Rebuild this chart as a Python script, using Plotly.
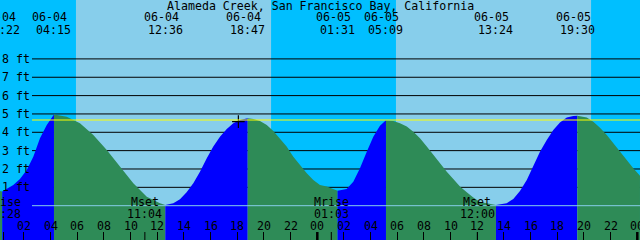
import plotly.graph_objects as go

# ---------------- data ----------------
title_text = "Alameda Creek, San Francisco Bay, California"

# hours since 06-04 00:00 and tide height (ft)
tide_hours = [0.0, 0.37, 0.705, 1.2, 1.7, 2.21, 2.7, 3.2, 3.71, 4.25, 5.21, 6.2, 7.2, 8.21, 9.2,
              10.2, 11.21, 12.2, 12.6, 13.2, 13.7, 14.2, 14.7, 15.2, 15.71, 16.2, 16.7, 17.21,
              17.7, 18.2, 18.78, 19.2, 19.7, 20.21, 20.7, 21.2, 21.7, 22.2, 22.7, 23.21, 23.7,
              24.2, 24.71, 25.2, 25.52, 26.2, 26.7, 27.2, 27.71, 28.2, 28.7, 29.15, 29.7, 30.2,
              30.71, 31.2, 31.7, 32.21, 32.7, 33.2, 33.71, 34.2, 34.7, 35.21, 35.7, 36.2, 36.95,
              37.4, 38.2, 38.7, 39.2, 39.71, 40.2, 40.7, 41.21, 41.7, 42.2, 42.71, 43.2, 43.5,
              44.21, 44.7, 45.2, 45.71, 46.2, 46.7, 47.21, 47.7, 48.2]
tide_ft = [0.82, 0.78, 0.91, 1.13, 1.46, 1.95, 2.67, 3.67, 4.40, 4.97, 4.85, 4.49, 3.85, 3.04, 2.13,
           1.22, 0.49, 0.13, 0.04, 0.13, 0.35, 0.73, 1.22, 1.85, 2.58, 3.22, 3.76, 4.18,
           4.49, 4.67, 4.76, 4.72, 4.62, 4.40, 4.07, 3.67, 3.22, 2.67, 2.22, 1.77, 1.40,
           1.13, 1.04, 0.91, 0.82, 0.91, 1.31, 2.04, 2.94, 3.76, 4.36, 4.65, 4.62, 4.49,
           4.31, 4.03, 3.67, 3.22, 2.76, 2.31, 1.85, 1.46, 1.04, 0.73, 0.44, 0.20, 0.08,
           0.04, 0.13, 0.37, 0.80, 1.40, 2.18, 2.94, 3.58, 4.13, 4.54, 4.80, 4.89, 4.90,
           4.80, 4.58, 4.25, 3.85, 3.40, 2.94, 2.49, 2.04, 1.63]

event_dates = ["06-04", "06-04", "06-04", "06-04", "06-05", "06-05", "06-05", "06-05"]
event_times = ["00:22", "04:15", "12:36", "18:47", "01:31", "05:09", "13:24", "19:30"]

sunrise_hours = [5.9, 29.9]
sunset_hours = [20.533, 44.533]

moon_labels = ["Mrise", "Mset", "Mrise", "Mset"]
moon_dates = ["06-04", "06-04", "06-05", "06-05"]
moon_times = ["00:28", "11:04", "01:03", "12:00"]

ft_levels = [1, 2, 3, 4, 5, 6, 7, 8]
mark_level_ft = 4.67
now_hour, now_ft = 18.08, 4.58

x_range = [0.2025, 48.2025]
y_range = [-1.87, 11.21]

# ---------------- styles ----------------
NIGHT = "#00BFFF"
DAY = "#87CEEB"
RISE = "#0000FF"
FALL = "#2E8B57"
DATUM = "#87CEEB"
MARK = "#FFFF00"
FONT = dict(family="DejaVu Sans Mono", size=11.6, color="black")
W, H = 640, 240


def to_hours(date, hm):
    day = 0 if date == "06-04" else 1
    h, m = hm.split(":")
    return day * 24 + int(h) + int(m) / 60.0


def py(pix):
    return 1 - pix / H


fig = go.Figure()

# tide fills, split into rising / falling segments at extremes
bounds = [tide_hours[0]] + [to_hours(d, t) for d, t in zip(event_dates, event_times)] + [tide_hours[-1]]
bounds = [min(tide_hours, key=lambda v: abs(v - b)) for b in bounds]
for b0, b1 in zip(bounds[:-1], bounds[1:]):
    idx = [i for i, t in enumerate(tide_hours) if b0 <= t <= b1]
    xs = [tide_hours[i] for i in idx]
    ys = [tide_ft[i] for i in idx]
    if len(xs) < 2:
        continue
    color = RISE if ys[-1] > ys[0] else FALL
    fig.add_trace(go.Scatter(
        x=xs + [xs[-1], xs[0]], y=ys + [-5, -5], mode="lines", fill="toself",
        fillcolor=color, line=dict(width=0, color=color), hoverinfo="skip", showlegend=False))

# "now" marker
fig.add_trace(go.Scatter(x=[now_hour], y=[now_ft], mode="markers",
                         marker=dict(symbol="cross-thin", size=9, line=dict(width=1.2, color="black")),
                         showlegend=False, hoverinfo="skip"))

shapes = []
shapes.append(dict(type="rect", xref="paper", yref="paper", x0=0, x1=1, y0=0, y1=1,
                   fillcolor=NIGHT, line=dict(width=0), layer="below"))
for r, s in zip(sunrise_hours, sunset_hours):
    shapes.append(dict(type="rect", xref="x", yref="paper", x0=r, x1=s, y0=0, y1=1,
                       fillcolor=DAY, line=dict(width=0), layer="below"))
for lv in ft_levels:
    shapes.append(dict(type="line", xref="paper", yref="y", x0=32 / W, x1=1, y0=lv, y1=lv,
                       line=dict(color="black", width=1), layer="below"))
shapes.append(dict(type="line", xref="paper", yref="y", x0=32 / W, x1=1, y0=0, y1=0,
                   line=dict(color=DATUM, width=1), layer="above"))
shapes.append(dict(type="line", xref="paper", yref="y", x0=32 / W, x1=1, y0=mark_level_ft, y1=mark_level_ft,
                   line=dict(color=MARK, width=1.2), layer="above"))
for d in [24, 48]:
    shapes.append(dict(type="line", xref="x", yref="paper", x0=d, x1=d, y0=0, y1=py(232),
                       line=dict(color="black", width=2.5), layer="above"))
for d, t in zip(moon_dates, moon_times):
    hx = to_hours(d, t)
    shapes.append(dict(type="line", xref="x", yref="paper", x0=hx, x1=hx, y0=0, y1=py(232),
                       line=dict(color="black", width=1), layer="above"))

annotations = []
annotations.append(dict(text=title_text, xref="paper", yref="paper", x=0.5, y=py(5.5),
                        xanchor="center", yanchor="middle", showarrow=False, font=FONT))
for d, t in zip(event_dates, event_times):
    hx = to_hours(d, t)
    annotations.append(dict(text=d, xref="x", yref="paper", x=hx, y=py(17.5), xshift=-4,
                            xanchor="center", yanchor="middle", showarrow=False, font=FONT))
    annotations.append(dict(text=t, xref="x", yref="paper", x=hx, y=py(29.5),
                            xanchor="center", yanchor="middle", showarrow=False, font=FONT))
for lab, d, t in zip(moon_labels, moon_dates, moon_times):
    hx = to_hours(d, t)
    annotations.append(dict(text=lab, xref="x", yref="paper", x=hx, y=py(202),
                            xanchor="center", yanchor="middle", showarrow=False, font=FONT))
    annotations.append(dict(text=t, xref="x", yref="paper", x=hx, y=py(213.5),
                            xanchor="center", yanchor="middle", showarrow=False, font=FONT))
for lv in ft_levels:
    annotations.append(dict(text=f"{lv} ft", xref="paper", yref="y", x=0, y=lv, xshift=0,
                            xanchor="left", yanchor="middle", showarrow=False, font=FONT))
hour_ticks = list(range(0, 49, 2))
for hx in hour_ticks:
    annotations.append(dict(text=f"{hx % 24:02d}", xref="x", yref="paper", x=hx, y=py(225.5),
                            xanchor="center", yanchor="middle", showarrow=False, font=FONT))

fig.update_layout(
    width=W, height=H, autosize=False,
    margin=dict(l=0, r=0, t=0, b=0, pad=0),
    paper_bgcolor=NIGHT, plot_bgcolor=NIGHT,
    showlegend=False,
    xaxis=dict(range=x_range, showgrid=False, zeroline=False, showline=False,
               tickmode="array", tickvals=hour_ticks, ticks="inside", ticklen=8,
               tickwidth=1, tickcolor="black", showticklabels=False, fixedrange=True),
    yaxis=dict(range=y_range, showgrid=False, zeroline=False, showline=False,
               showticklabels=False, ticks="", fixedrange=True),
    shapes=shapes, annotations=annotations,
)

fig.write_html("out.html", config={"displayModeBar": False})
